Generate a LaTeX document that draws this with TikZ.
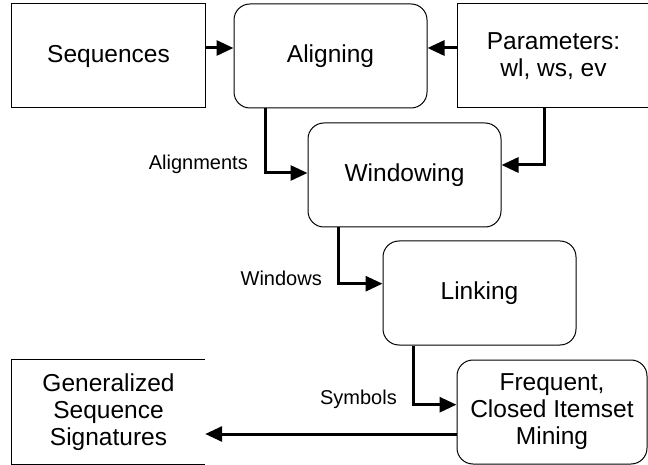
\documentclass[tikz,border=0pt]{standalone}
\usepackage{fontspec}
\setmainfont{Liberation Sans}
\usetikzlibrary{arrows.meta}
\tikzset{
  box/.style={draw=black, line width=1bp, minimum width=193bp, minimum height=104bp, align=center, inner sep=0pt,
    font=\fontsize{24.5bp}{27bp}\selectfont},
  rbox/.style={box, rounded corners=16bp},
  plain/.style={minimum width=193bp, minimum height=104bp, align=center, inner sep=0pt,
    font=\fontsize{24.5bp}{27bp}\selectfont},
  arr/.style={line width=3bp, -{Triangle[length=17bp,width=15bp]}},
  lbl/.style={font=\fontsize{20bp}{24bp}\selectfont, inner sep=0pt, anchor=east},
}
\begin{document}
\begin{tikzpicture}[x=1bp,y=-1bp]
\useasboundingbox (0,0) rectangle (648,465);
\node[box] (seq) at (108.5,56) {Sequences};
\node[rbox] (align) at (330.5,56) {Aligning};
\node[box] (par) at (553.5,56) {Parameters:\\wl, ws, ev};
\node[rbox] (win) at (404.5,175) {Windowing};
\node[rbox] (link) at (479.5,293) {Linking};
\node[rbox, minimum width=190bp] (freq) at (552,412) {Frequent,\\Closed Itemset\\Mining};
\node[plain] (gen) at (108.5,412) {Generalized\\Sequence\\Signatures};
\draw[line width=1bp] (gen.north east) -- (gen.north west) -- (gen.south west) -- (gen.south east);

\node[lbl] (lalign) at (248,164) {Alignments};
\node[lbl] (lwin) at (322,278) {Windows};
\node[lbl] (lsym) at (397,399) {Symbols};

\draw[arr] ([yshift=8bp]seq.east) -- ([yshift=8bp]align.west);
\draw[arr] ([yshift=8bp]par.west) -- ([yshift=8bp]align.east);
\draw[arr] ([xshift=-65.5bp]align.south) |- ([yshift=2bp]win.west);
\draw[arr] ([xshift=-9bp]par.south) |- ([yshift=10bp]win.east);
\draw[arr] ([xshift=-66.5bp]win.south) |- ([yshift=9.3bp]link.west);
\draw[arr] ([xshift=-66.2bp]link.south) |- ([yshift=7.3bp]freq.west);
\draw[arr] ([yshift=-22bp]freq.west) -- ([yshift=-22bp]gen.east);
\end{tikzpicture}
\end{document}
